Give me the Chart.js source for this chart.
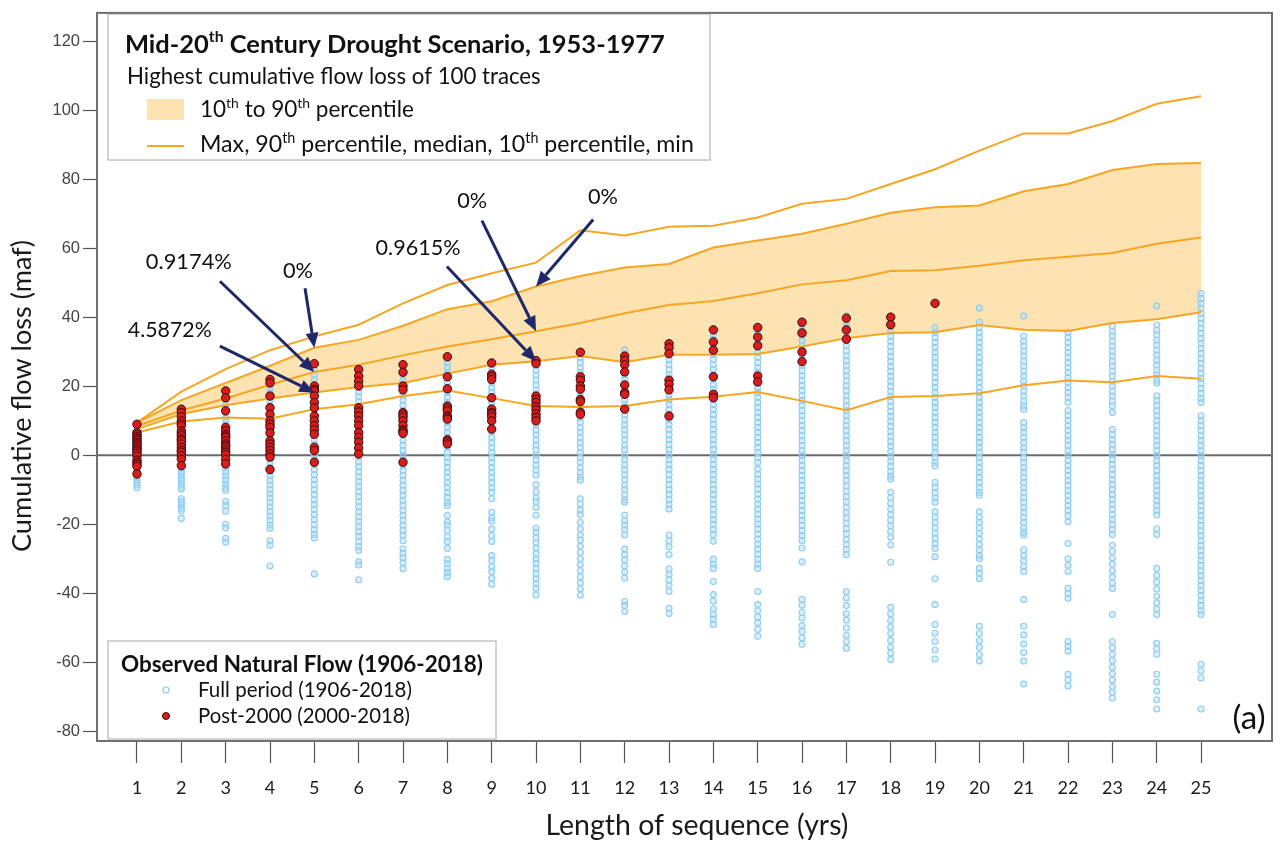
<!DOCTYPE html>
<html>
<head>
<meta charset="utf-8">
<script src="https://cdn.jsdelivr.net/npm/chart.js@4.4.1/dist/chart.umd.min.js"></script>
<style>
  html, body { margin: 0; padding: 0; background: #fff; }
  canvas { display: block; }
</style>
</head>
<body>
<canvas id="flowChart" width="1285" height="844"></canvas>
<script>
// sequence length (years) and axis ticks
const seqLength = [1, 2, 3, 4, 5, 6, 7, 8, 9, 10, 11, 12, 13, 14, 15, 16, 17, 18, 19, 20, 21, 22, 23, 24, 25];
const yTicks = [-80, -60, -40, -20, 0, 20, 40, 60, 80, 100, 120];

// highest cumulative flow loss of 100 traces, mid-20th century drought 1953-1977 (maf)
const maxLoss    = [9.5, 18.5, 25, 30.5, 34.5, 37.9, 44.1, 49.4, 52.8, 55.9, 65.3, 63.8, 66.3, 66.6, 69, 73, 74.4, 78.7, 83, 88.4, 93.4, 93.4, 97, 102, 104.2];
const p90Loss    = [9.5, 16, 21, 26, 31.2, 33.5, 37.6, 42.4, 44.7, 49, 52, 54.5, 55.5, 60.3, 62.3, 64.3, 67.2, 70.4, 72, 72.5, 76.6, 78.7, 82.8, 84.5, 84.8];
const medianLoss = [8.5, 13, 16.5, 20.5, 24.2, 26.3, 29, 31.6, 33.7, 36, 38.4, 41.2, 43.6, 44.8, 47, 49.6, 50.8, 53.5, 53.7, 55, 56.6, 57.6, 58.7, 61.4, 63.2];
const p10Loss    = [7.6, 12, 14.5, 16.5, 18.2, 19.8, 21, 23.7, 26.3, 27.3, 28.8, 27, 29.2, 29.2, 29.4, 31.6, 34, 35.5, 35.7, 37.8, 36.4, 36.1, 38.4, 39.5, 41.5];
const minLoss    = [6.6, 9.8, 11, 10.6, 13.4, 14.8, 17.2, 18.8, 16.6, 14.3, 14, 14.3, 16.2, 17, 18.4, 15.8, 13.1, 16.9, 17.2, 18, 20.3, 21.7, 21.2, 23, 22.2];

// observed natural flow 1906-2018, cumulative loss for every sequence, one list per length
const fullPeriod = [
  [9, 8.3, 7.4, 6.9, 6.2, 5.4, 4.9, 4.1, 3.6, 2.8, 2.1, 1.5, 0.7, 0.1, -0.6, -1.3, -1.9, -2.6, -3.4, -4.1, -4.9, -5.6, -6.4, -7.1, -7.8, -8.6, -9.4],
  [13.6, 12.4, 11.3, 10.1, 9.2, 8, 7.1, 6.2, 5.1, 4.3, 3.2, 2.4, 1.3, 0.5, -0.6, -1.5, -2.6, -3.4, -4.5, -5.3, -6.4, -7.2, -8.3, -9.1, -9.8, -12.6, -13.5, -14.3, -15.4, -16.1, -18.3],
  [18.6, 17.3, 16.2, 14.8, 13.5, 12.4, 11.2, 10.1, 8.9, 7.8, 6.6, 5.5, 4.3, 3.2, 2, 0.9, -0.3, -1.4, -2.6, -3.7, -4.9, -6, -7.2, -8.3, -9.5, -10.2, -13.4, -14.6, -16.2, -20, -21.1, -24.1, -25.2],
  [22.3, 21, 19.7, 18.3, 17.1, 15.8, 14.4, 13.2, 11.9, 10.6, 9.3, 8, 6.8, 5.5, 4.2, 2.9, 1.6, 0.4, -0.9, -2.2, -3.5, -4.8, -6, -7.3, -8.6, -9.9, -11.2, -12.4, -13.7, -15, -16.3, -17.6, -18.9, -20.2, -21.2, -24.8, -26.1, -32.1],
  [26.6, 24.9, 23.4, 21.9, 20.4, 19, 17.6, 16.1, 14.7, 13.2, 11.8, 10.3, 8.9, 7.4, 6, 4.5, 3.1, 1.6, 0.2, -1.3, -2.7, -4.2, -5.6, -7.1, -8.5, -10, -11.4, -12.9, -14.3, -15.8, -17.2, -18.7, -20.1, -21.6, -23, -24, -34.4],
  [24.2, 22.8, 21.3, 19.9, 18.4, 17, 15.5, 14.1, 12.6, 11.2, 9.7, 8.3, 6.8, 5.4, 3.9, 2.5, 1, -0.4, -1.9, -3.3, -4.8, -6.2, -7.7, -9.1, -10.6, -12, -13.5, -14.9, -16.4, -17.8, -19.3, -20.7, -22.2, -23.6, -25.1, -26.5, -27.6, -30.9, -31.8, -36.1],
  [26.1, 24.6, 23.2, 21.7, 20.3, 18.8, 17.4, 15.9, 14.5, 13, 11.6, 10.1, 8.7, 7.2, 5.8, 4.3, 2.9, 1.4, 0, -1.5, -2.9, -4.4, -5.8, -7.3, -8.7, -10.2, -11.6, -13.1, -14.5, -16, -17.4, -18.9, -20.3, -21.8, -23.2, -24.8, -27.1, -28.4, -29.8, -31.2, -32.9],
  [28.4, 26.9, 25.5, 24, 22.6, 21.1, 19.7, 18.2, 16.8, 15.3, 13.9, 12.4, 11, 9.5, 8.1, 6.6, 5.2, 3.7, 2.3, 0.8, -0.6, -2.1, -3.5, -5, -6.4, -7.9, -9.3, -10.8, -12.2, -13.7, -14.6, -17.4, -19.3, -20.2, -21.8, -23.6, -25.1, -27, -30.2, -31.4, -32.9, -34.1, -35.2],
  [26.9, 25.4, 24, 22.5, 21.1, 19.6, 18.2, 16.7, 15.3, 13.8, 12.4, 10.9, 9.5, 8, 6.6, 5.1, 3.7, 2.2, 0.8, -0.7, -2.1, -3.6, -5, -6.5, -7.9, -9.4, -10.8, -12.6, -16.5, -18.2, -19.1, -21.4, -23.3, -25, -29.1, -30.5, -32.3, -33.8, -35.7, -37.4],
  [27.6, 26.2, 24.7, 23.3, 21.8, 20.4, 18.9, 17.5, 16, 14.6, 13.1, 11.7, 10.2, 8.8, 7.3, 5.9, 4.4, 3, 1.5, 0.1, -1.4, -2.8, -4.3, -5.8, -8.5, -10.6, -12.3, -13.4, -15.1, -17.4, -21.1, -22.4, -23.9, -25.5, -26.8, -28.6, -30.1, -31.3, -32.9, -34.4, -35.8, -37.2, -38.6, -40.5],
  [29.8, 28.3, 26.9, 25.4, 24, 22.5, 21.1, 19.6, 18.2, 16.7, 15.3, 13.8, 12.4, 10.9, 9.5, 8, 6.6, 5.1, 3.7, 2.2, 0.8, -0.7, -2.1, -3.6, -5, -6.3, -7.2, -12.6, -14.1, -15.9, -17.2, -19.5, -21.3, -23.1, -24.6, -26.4, -28.2, -30, -31.7, -33.5, -35.3, -37, -38.7, -40.6],
  [30.6, 29.1, 27.7, 26.2, 24.8, 23.3, 21.9, 20.4, 19, 17.5, 16.1, 14.6, 13.2, 11.7, 10.3, 8.8, 7.4, 5.9, 4.5, 3, 1.6, 0.1, -1.3, -2.8, -4.2, -5.7, -7.1, -8.6, -10, -11.5, -12.9, -13.6, -17.4, -18.9, -20.2, -21.6, -23.1, -27.2, -28.8, -30.3, -32.1, -33.9, -35.6, -42.4, -43.6, -45.3],
  [32.1, 30.6, 29.2, 27.7, 26.3, 24.8, 23.4, 21.9, 20.5, 19, 17.6, 16.1, 14.7, 13.2, 11.8, 10.3, 8.9, 7.4, 6, 4.5, 3.1, 1.6, 0.2, -1.3, -2.7, -4.2, -5.6, -7.1, -8.5, -10, -11.4, -12.9, -14.3, -15.6, -23.1, -24.8, -26.5, -28.8, -32.9, -34.6, -36.1, -37.8, -39.5, -44.4, -45.9],
  [36.5, 35, 33.6, 32.1, 30.7, 29.2, 27.8, 26.3, 24.9, 23.4, 22, 20.5, 19.1, 17.6, 16.2, 14.7, 13.3, 11.8, 10.4, 8.9, 7.5, 6, 4.6, 3.1, 1.7, 0.2, -1.2, -2.7, -4.1, -5.6, -7, -8.5, -9.9, -11.4, -12.8, -14.3, -15.7, -17.2, -18.6, -20.1, -21.5, -23, -24.9, -30.1, -31.6, -32.8, -36.6, -40.4, -42.3, -44.5, -46.2, -47.6, -49.1],
  [37.1, 35.6, 34.2, 32.7, 31.3, 29.8, 28.4, 26.9, 25.5, 24, 22.6, 21.1, 19.7, 18.2, 16.8, 15.3, 13.9, 12.4, 11, 9.5, 8.1, 6.6, 5.2, 3.7, 2.3, 0.8, -0.6, -2.1, -4, -5.5, -6.9, -8.4, -9.8, -11.3, -12.7, -14.2, -15.6, -17.1, -18.5, -20, -21.4, -22.9, -24.3, -25.8, -27.2, -28.7, -30.1, -31.6, -32.8, -39.5, -43.3, -45.1, -46.9, -48.6, -50.5, -52.5],
  [39.1, 37.6, 36.2, 34.7, 33.3, 31.8, 30.4, 28.9, 27.5, 26, 24.6, 23.1, 21.7, 20.2, 18.8, 17.3, 15.9, 14.4, 13, 11.5, 10.1, 8.6, 7.2, 5.7, 4.3, 2.8, 1.4, -0.1, -1.5, -3, -4.4, -5.9, -7.3, -8.8, -10.2, -11.7, -13.1, -14.6, -16, -17.5, -18.9, -20.4, -21.8, -23.3, -24.7, -26.9, -30.9, -41.8, -43.5, -45.6, -47.2, -49.4, -51.1, -53, -54.8],
  [40.5, 39, 37.6, 36.1, 34.7, 33.2, 31.8, 30.3, 28.9, 27.4, 26, 24.5, 23.1, 21.6, 20.2, 18.7, 17.3, 15.8, 14.4, 12.9, 11.5, 10, 8.6, 7.1, 5.7, 4.2, 2.8, 1.3, -0.1, -1.6, -3, -4.5, -5.8, -7.3, -8.9, -10.4, -12, -13.5, -15.1, -16.6, -18.2, -19.7, -21.3, -22.8, -24.4, -25.9, -27.3, -28.8, -39.5, -41.4, -43.6, -45.9, -47.8, -50.1, -52.2, -54.1, -56],
  [40.3, 38.8, 37.4, 35.9, 34.5, 33, 31.6, 30.1, 28.7, 27.2, 25.8, 24.3, 22.9, 21.4, 20, 18.5, 17.1, 15.6, 14.2, 12.7, 11.3, 9.8, 8.4, 6.9, 5.5, 4, 2.6, 1.1, -0.3, -1.8, -3.2, -4.7, -6.1, -6.9, -10.7, -12.3, -13.9, -15.6, -17.2, -18.8, -20.5, -22.1, -23.8, -26, -31, -44.1, -46, -47.9, -49.8, -51.7, -53.7, -55.6, -57.4, -59.2],
  [37.1, 35.6, 34.2, 32.7, 31.3, 29.8, 28.4, 26.9, 25.5, 24, 22.6, 21.1, 19.7, 18.2, 16.8, 15.3, 13.9, 12.4, 11, 9.5, 8.1, 6.6, 5.2, 3.7, 2.3, 0.8, -0.6, -2.1, -3.1, -7.8, -9.3, -10.9, -12.4, -13.6, -16.4, -17.9, -19.5, -21, -22.6, -24.1, -25.7, -27, -29.4, -35.8, -43.3, -49.1, -51.6, -54, -56.5, -59.1],
  [42.7, 38.6, 37.1, 35.6, 34.2, 32.7, 31.3, 29.8, 28.4, 26.9, 25.5, 24, 22.6, 21.1, 19.7, 18.2, 16.8, 15.3, 13.9, 12.4, 11, 9.5, 8.1, 6.6, 5.2, 3.7, 2.3, 0.8, -0.6, -2.1, -3.5, -5, -6.4, -7.9, -9.3, -10.8, -11.6, -16.4, -17.9, -19.5, -21.1, -22.7, -24.3, -25.9, -27.5, -29.1, -30, -32.8, -34.3, -35.8, -49.6, -51.7, -53.8, -55.7, -57.8, -59.7],
  [40.4, 34.6, 33.1, 31.7, 30.2, 28.8, 27.3, 25.9, 24.4, 23, 21.5, 20.1, 18.6, 17.2, 15.7, 14.3, 13.3, 9.5, 8, 6.6, 5.1, 3.7, 2.2, 0.8, -0.7, -2.1, -3.6, -5, -6.5, -7.9, -9.4, -10.8, -12.3, -13.7, -15.2, -16.6, -18.1, -19.5, -21, -22.4, -23.1, -27.4, -29.1, -30.6, -32.2, -33.7, -41.8, -49.6, -52.1, -54.7, -57.2, -59.7, -66.3],
  [35.6, 34.1, 32.7, 31.2, 29.8, 28.3, 26.9, 25.4, 24, 22.5, 21.1, 19.6, 18.2, 16.7, 15.3, 13, 11.5, 10.1, 8.6, 7.2, 5.7, 4.3, 2.8, 1.4, -0.1, -1.5, -3, -4.4, -5.9, -7.3, -8.8, -10.2, -11.7, -13.1, -14.6, -16, -17.5, -19.3, -25.6, -30, -31.9, -33.7, -38.6, -40.1, -41.5, -54, -55.4, -56.8, -63.5, -65.2, -66.9],
  [37.5, 36, 34.6, 33.1, 31.7, 30.2, 28.8, 27.3, 25.9, 24.4, 23, 21.5, 20.1, 18.6, 17.2, 15.7, 14.3, 12.4, 7.5, 6, 4.6, 3.1, 1.7, 0.2, -1.2, -2.7, -4.1, -5.6, -7, -8.5, -9.9, -11.4, -12.8, -14.3, -15.7, -17.2, -18.6, -20.1, -21.5, -23, -26, -27.9, -29.8, -31.6, -33.5, -35.4, -37.1, -38.6, -46.2, -54, -55.8, -57.7, -59.6, -61.5, -63.4, -65.2, -67.1, -68.8, -70.4],
  [43.3, 37.8, 36.3, 34.9, 33.4, 32, 30.5, 29.1, 27.6, 26.2, 24.7, 23.3, 21.8, 21, 17.3, 15.8, 14.4, 12.9, 11.5, 10, 8.6, 7.1, 5.7, 4.2, 2.8, 1.3, -0.1, -1.6, -3, -4.5, -5.9, -7.4, -8.8, -10.3, -11.7, -13.2, -14.6, -16.1, -17.3, -21.3, -23, -32.8, -34.8, -36.8, -38.8, -40.9, -42.8, -44.6, -46.2, -54.5, -56.1, -57.7, -63.5, -65.8, -68.4, -70.9, -73.6],
  [47, 45.5, 44.1, 42.6, 41.2, 39.7, 38.3, 36.8, 35.4, 33.9, 32.5, 31, 29.6, 28.1, 26.7, 25.2, 23.8, 22.3, 20.9, 19.4, 18, 16.5, 15.3, 11.5, 10, 8.6, 7.1, 5.7, 4.2, 2.8, 1.3, -0.1, -1.6, -3, -4.5, -5.9, -7.4, -8.8, -10.3, -11.7, -13.2, -14.6, -16.1, -17.5, -19, -20.4, -21.9, -23.3, -24.8, -26.2, -27.7, -29.1, -30.6, -32, -33.5, -34.9, -36.4, -37.8, -39.3, -40.7, -42.2, -43.6, -45.1, -46.2, -60.6, -62.5, -64.6, -73.6]
];

// post-2000 sequences (2000-2018)
const post2000 = [
  [9, 6.6, 6, 5.4, 4.9, 4.4, 3.8, 3.3, 2.8, 2.2, 1.7, 1.2, 0.6, -0.2, -1.4, -2, -2.6, -3.2, -5.4],
  [13.4, 12.4, 11.2, 10, 9.2, 8.6, 7.1, 6.4, 5.7, 4.8, 4.2, 3.3, 2.3, 1.5, 0.9, -0.1, -1.1, -3],
  [18.7, 16.7, 12.9, 8.1, 7.1, 6.1, 5.6, 5.2, 4.2, 3.3, 2.8, 2.3, 1.5, 0.9, 0.2, -1.2, -2.5],
  [22, 21, 17.2, 13.8, 11.9, 10, 9, 8.1, 6.5, 4.2, 3.3, 2.3, 1.4, 0.4, -0.5, -4.1],
  [26.6, 20.1, 19.1, 18.7, 17.2, 15.3, 13.8, 11.4, 10, 8.6, 7.4, 6.1, 2.3, 1.4, -2],
  [24.9, 23, 21.5, 20.1, 13.8, 12.6, 11.4, 10, 8.6, 6.6, 5.2, 3.8, 2.1, 0.4],
  [26.3, 24.1, 20.1, 19, 12.4, 11.7, 11, 10, 8.6, 7.4, 6.9, 6.4, -2],
  [28.6, 22.8, 19.3, 14.3, 13.6, 12.9, 11.5, 11, 10.5, 4.5, 4, 3.3],
  [26.8, 23.5, 22.8, 22, 16.7, 13.4, 12.4, 12, 11.2, 10, 7.6],
  [27.5, 26.6, 17.2, 16.2, 15.3, 14.1, 13.2, 12, 11, 10],
  [29.9, 22.8, 21.8, 20.1, 19.2, 16.2, 15.6, 12.5, 11.9],
  [28.8, 27.6, 26.3, 24.2, 20.4, 18.2, 17.7, 13.4],
  [32.4, 31.2, 29.5, 21.8, 20.6, 19, 11.4],
  [36.4, 32.9, 30.5, 22.8, 17.7, 16.7],
  [37.1, 34.3, 31.8, 23, 21.3],
  [38.6, 35.5, 30, 27.2],
  [39.8, 36.4, 33.7],
  [40.1, 37.9],
  [44.1]
];

// exceedance notes: label position and arrow tail in data units, arrow tip on a trace
const arrowNotes = [
  { label: '4.5872%', at: [1.74, 36.3], width: 84, tail: [2.87, 31.7], len: 5, series: p10Loss },
  { label: '0.9174%', at: [2.17, 56.2], width: 86, tail: [2.87, 50.5], len: 5, series: medianLoss },
  { label: '0%',      at: [4.63, 53.6], width: 30, tail: [4.79, 48.5], len: 5, series: p90Loss },
  { label: '0.9615%', at: [7.34, 60.0], width: 85, tail: [7.99, 54.8], len: 10, series: p10Loss },
  { label: '0%',      at: [8.56, 73.8], width: 30, tail: [8.78, 68.1], len: 10, series: medianLoss },
  { label: '0%',      at: [11.51, 75.0], width: 30, tail: [11.29, 68.4], len: 10, series: p90Loss }
];

const ORANGE = '#f6a623';
const BAND = 'rgb(253, 226, 178)';
const NAVY = '#1f2868';
const FONT = 'Lato, "Open Sans", sans-serif';

const toPts = arr => arr.map((v, i) => ({ x: seqLength[i], y: v }));
const scatterPts = cols => cols.flatMap((col, i) => col.map(v => ({ x: seqLength[i], y: v })));

const traceLine = (label, data, extra) => Object.assign({
  type: 'line', label, data: toPts(data), borderColor: ORANGE, borderWidth: 2,
  pointRadius: 0, tension: 0, fill: false, order: 1
}, extra || {});

// text helpers: size the font so a string spans a given width
function fitSize(ctx, parts, width, weight) {
  let w = 0;
  for (const [s, sup] of parts) {
    ctx.font = `${weight} ${sup ? 12.4 : 20}px ${FONT}`;
    w += ctx.measureText(s).width;
  }
  return 20 * width / w;
}
function drawRich(ctx, parts, x, y, width, weight, align) {
  const size = fitSize(ctx, parts, width, weight);
  let cx = align === 'center' ? x - width / 2 : x;
  ctx.textAlign = 'left';
  ctx.textBaseline = 'middle';
  for (const [s, sup] of parts) {
    ctx.font = `${weight} ${sup ? size * 0.62 : size}px ${FONT}`;
    ctx.fillText(s, cx, sup ? y - size * 0.3 : y);
    cx += ctx.measureText(s).width;
  }
}
function drawArrow(ctx, x0, y0, x1, y1) {
  const a = Math.atan2(y1 - y0, x1 - x0);
  const head = 15, half = 6.5;
  const bx = x1 - head * Math.cos(a), by = y1 - head * Math.sin(a);
  ctx.strokeStyle = NAVY;
  ctx.fillStyle = NAVY;
  ctx.lineWidth = 3;
  ctx.beginPath();
  ctx.moveTo(x0, y0);
  ctx.lineTo(bx, by);
  ctx.stroke();
  ctx.beginPath();
  ctx.moveTo(x1, y1);
  ctx.lineTo(bx - half * Math.sin(a), by + half * Math.cos(a));
  ctx.lineTo(bx + half * Math.sin(a), by - half * Math.cos(a));
  ctx.closePath();
  ctx.fill();
}
function box(ctx, x, y, w, h) {
  ctx.fillStyle = '#fff';
  ctx.fillRect(x, y, w, h);
  ctx.strokeStyle = '#c4c4c4';
  ctx.lineWidth = 1.5;
  ctx.strokeRect(x, y, w, h);
}

const decorations = {
  id: 'decorations',
  beforeDatasetsDraw(chart) {
    const { ctx, chartArea: a, scales: { y } } = chart;
    const y0 = y.getPixelForValue(0);
    ctx.save();
    ctx.strokeStyle = '#6a6a6a';
    ctx.lineWidth = 2;
    ctx.beginPath();
    ctx.moveTo(a.left, y0);
    ctx.lineTo(a.right, y0);
    ctx.stroke();
    ctx.restore();
  },
  afterDatasetsDraw(chart) {
    const { ctx, chartArea: a, scales: { x, y } } = chart;
    ctx.save();

    // arrows and percentages
    arrowNotes.forEach(n => {
      const tx = x.getPixelForValue(n.len), ty = y.getPixelForValue(n.series[n.len - 1]);
      drawArrow(ctx, x.getPixelForValue(n.tail[0]), y.getPixelForValue(n.tail[1]), tx, ty);
      ctx.fillStyle = '#111';
      drawRich(ctx, [[n.label]], x.getPixelForValue(n.at[0]), y.getPixelForValue(n.at[1]), n.width, 'normal', 'center');
    });

    // scenario legend
    box(ctx, 108, 14, 602, 146);
    ctx.fillStyle = '#111';
    drawRich(ctx, [['Mid-20'], ['th', 1], [' Century Drought Scenario, 1953-1977']], 125, 45, 540, 'bold');
    drawRich(ctx, [['Highest cumulative flow loss of 100 traces']], 127, 77, 414, 'normal');
    ctx.fillStyle = BAND;
    ctx.fillRect(147, 99, 37, 21);
    ctx.fillStyle = '#111';
    drawRich(ctx, [['10'], ['th', 1], [' to 90'], ['th', 1], [' percentile']], 200, 110, 214, 'normal');
    ctx.strokeStyle = ORANGE;
    ctx.lineWidth = 2;
    ctx.beginPath();
    ctx.moveTo(147, 146);
    ctx.lineTo(184, 146);
    ctx.stroke();
    ctx.fillStyle = '#111';
    drawRich(ctx, [['Max, 90'], ['th', 1], [' percentile, median, 10'], ['th', 1], [' percentile, min']], 200, 145, 494, 'normal');

    // observed flow legend
    box(ctx, 108, 641, 388, 98);
    ctx.fillStyle = '#111';
    drawRich(ctx, [['Observed Natural Flow (1906-2018)']], 121, 665, 362, 'bold');
    ctx.beginPath();
    ctx.arc(166, 690, 3, 0, Math.PI * 2);
    ctx.strokeStyle = '#8ccaee';
    ctx.lineWidth = 1.2;
    ctx.stroke();
    ctx.fillStyle = '#111';
    drawRich(ctx, [['Full period (1906-2018)']], 198, 690, 214, 'normal');
    ctx.beginPath();
    ctx.arc(166, 716, 3.5, 0, Math.PI * 2);
    ctx.fillStyle = '#d91c1c';
    ctx.fill();
    ctx.strokeStyle = '#3a0a0a';
    ctx.lineWidth = 1;
    ctx.stroke();
    ctx.fillStyle = '#111';
    drawRich(ctx, [['Post-2000 (2000-2018)']], 198, 716, 212, 'normal');

    // panel letter
    drawRich(ctx, [['(a)']], 1249, 718, 33, 'normal', 'center');

    // plot frame
    ctx.strokeStyle = '#707070';
    ctx.lineWidth = 2;
    ctx.strokeRect(a.left, a.top, a.right - a.left, a.bottom - a.top);
    ctx.restore();
  },
  afterDraw(chart) {
    const { ctx } = chart;
    ctx.save();
    ctx.fillStyle = '#1a1a1a';
    drawRich(ctx, [['Length of sequence (yrs)']], 697, 826, 303, 'normal', 'center');
    ctx.translate(22, 396);
    ctx.rotate(-Math.PI / 2);
    drawRich(ctx, [['Cumulative flow loss (maf)']], 0, 0, 312, 'normal', 'center');
    ctx.restore();
  }
};

new Chart(document.getElementById('flowChart'), {
  type: 'scatter',
  data: {
    datasets: [
      traceLine('10th percentile', p10Loss),
      traceLine('90th percentile', p90Loss, { fill: '-1', backgroundColor: BAND }),
      traceLine('Median', medianLoss),
      traceLine('Max', maxLoss),
      traceLine('Min', minLoss),
      {
        label: 'Full period (1906-2018)',
        data: scatterPts(fullPeriod),
        pointStyle: 'circle',
        pointRadius: 3,
        borderWidth: 1.1,
        borderColor: '#8fcdf0',
        backgroundColor: 'rgba(175, 218, 243, 0.45)',
        order: 2
      },
      {
        label: 'Post-2000 (2000-2018)',
        data: scatterPts(post2000),
        pointStyle: 'circle',
        pointRadius: 4.2,
        borderWidth: 1,
        borderColor: '#3a0a0a',
        backgroundColor: '#d91c1c',
        order: 0
      }
    ]
  },
  options: {
    responsive: false,
    devicePixelRatio: 1,
    animation: false,
    layout: { padding: { top: 8, right: 13, left: 0, bottom: 0 } },
    plugins: {
      legend: { display: false },
      tooltip: { enabled: false },
      filler: { drawTime: 'beforeDatasetsDraw' }
    },
    scales: {
      x: {
        type: 'linear',
        min: 0.098,
        max: 26.6,
        afterBuildTicks: s => { s.ticks = seqLength.map(v => ({ value: v })); },
        afterFit: s => { s.height = 103; },
        grid: { drawOnChartArea: false, drawTicks: true, tickLength: 22, tickColor: '#555', tickWidth: 1.2 },
        border: { display: false },
        ticks: { font: { family: FONT, size: 18 }, color: '#1a1a1a', padding: 14, maxRotation: 0, autoSkip: false }
      },
      y: {
        type: 'linear',
        min: -82.88,
        max: 128.36,
        afterBuildTicks: s => { s.ticks = yTicks.map(v => ({ value: v })); },
        afterFit: s => { s.width = 97; },
        grid: { drawOnChartArea: false, drawTicks: true, tickLength: 14, tickColor: '#555', tickWidth: 1.2 },
        border: { display: false },
        ticks: { font: { family: '"Liberation Sans", Arial, sans-serif', size: 16.5 }, color: '#444', padding: 3 }
      }
    }
  },
  plugins: [decorations]
});
</script>
</body>
</html>
